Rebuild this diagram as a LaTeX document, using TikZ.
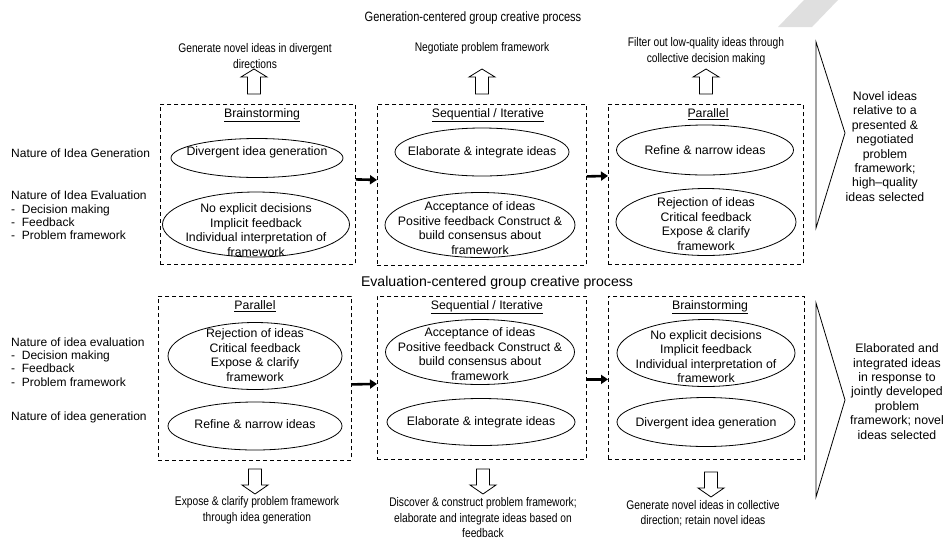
\documentclass[tikz,border=0pt]{standalone}
\usepackage{fontspec}
\setmainfont{Liberation Sans}
\newfontfamily\narrowfont[FakeStretch=0.82]{Liberation Sans}
\usetikzlibrary{arrows.meta,shapes.geometric}
\begin{document}
\begin{tikzpicture}[x=1pt,y=-1pt,
  stagebox/.style={draw,line width=0.8pt,dash pattern=on 4pt off 3pt,inner sep=0pt,anchor=north west},
  ell/.style={draw,ellipse,line width=0.8pt,inner sep=0pt},
  btxt/.style={font=\fontsize{12.3}{14.5}\selectfont,align=center,inner sep=0pt},
  head/.style={font=\fontsize{12.3}{14.5}\selectfont,inner sep=0pt},
  lbl/.style={font=\fontsize{12}{13.2}\selectfont,align=left,anchor=west,inner sep=0pt},
  ann/.style={font=\narrowfont\fontsize{12.5}{15.5}\selectfont,align=center,inner sep=0pt},
  outc/.style={font=\fontsize{12.3}{14.4}\selectfont,align=center,inner sep=0pt},
  flow/.style={line width=2.6pt,-{Triangle[length=7pt,width=9pt]}},
  uparrow/.pic={\draw[line width=0.8pt,fill=white] (-6.5,25) -- (-6.5,8) -- (-13,8) -- (0,0) -- (13,8) -- (6.5,8) -- (6.5,25) -- cycle;},
  downarrow/.pic={\draw[line width=0.8pt,fill=white] (-6.5,-25) -- (-6.5,-9) -- (-13,-9) -- (0,0) -- (13,-9) -- (6.5,-9) -- (6.5,-25) -- cycle;}
]
\useasboundingbox (0,0) rectangle (944,539);
% watermark
\fill[gray!25] (778,27) -- (812,27) -- (838,0) -- (804,0) -- cycle;

% titles
\node[font=\narrowfont\fontsize{13.5}{16}\selectfont,inner sep=0pt] (gtitle) at (473,18) {Generation-centered group creative process};
\node[font=\fontsize{14.1}{16}\selectfont,inner sep=0pt] (etitle) at (497,283) {Evaluation-centered group creative process};

% top annotations
\node[ann] (t1) at (255,56) {Generate novel ideas in divergent\\directions};
\node[ann] (t2) at (482,48) {Negotiate problem framework};
\node[ann] (t3) at (706,51.5) {Filter out low-quality ideas through\\collective decision making};
\pic at (254,69) {uparrow};
\pic at (482,69) {uparrow};
\pic at (706,69) {uparrow};

% left labels
\node[lbl] (lg1) at (11,153) {Nature of Idea Generation};
\node[lbl] (le1) at (11,215.5) {Nature of Idea Evaluation\\- \ Decision making\\- \ Feedback\\- \ Problem framework};
\node[lbl] (le2) at (11,362) {Nature of idea evaluation\\- \ Decision making\\- \ Feedback\\- \ Problem framework};
\node[lbl] (lg2) at (11,417) {Nature of idea generation};

% top boxes
\node[stagebox,minimum width=195pt,minimum height=160pt] (b1) at (160,104) {};
\node[stagebox,minimum width=209pt,minimum height=161pt] (b2) at (377,104) {};
\node[stagebox,minimum width=195pt,minimum height=160pt] (b3) at (608,104) {};

\node[head] (h1) at (262,115) {\underline{Brainstorming}};
\node[ell,minimum width=172pt,minimum height=39pt] (e11) at (257,158) {};
\node[btxt] (x11) at (257,152) {Divergent idea generation};
\node[ell,minimum width=187pt,minimum height=65pt] (e12) at (256,224.5) {};
\node[btxt] (x12) at (256,230) {No explicit decisions\\Implicit feedback\\Individual interpretation of\\framework};

\node[head] (h2) at (488,115) {\underline{Sequential / Iterative}};
\node[ell,minimum width=174pt,minimum height=48pt] (e21) at (482,152) {};
\node[btxt] (x21) at (482,152) {Elaborate \& integrate ideas};
\node[ell,minimum width=190pt,minimum height=65pt] (e22) at (480,225) {};
\node[btxt] (x22) at (480,228) {Acceptance of ideas\\Positive feedback Construct \&\\build consensus about\\framework};

\node[head] (h3) at (708,114) {\underline{Parallel}};
\node[ell,minimum width=177pt,minimum height=50pt] (e31) at (705,150) {};
\node[btxt] (x31) at (705,150) {Refine \& narrow ideas};
\node[ell,minimum width=180pt,minimum height=67pt] (e32) at (706,222) {};
\node[btxt] (x32) at (706,224) {Rejection of ideas\\Critical feedback\\Expose \& clarify\\framework};

\draw[flow] ([yshift=5pt]b1.east) -- ([yshift=5pt]b2.west);
\draw[flow] ([yshift=8.5pt]b2.east) -- ([yshift=8.5pt]b3.west);

% top outcome triangle
\draw[line width=0.8pt] (816,42) -- (845,133) -- (816,228) -- cycle;
\node[outc] (o1) at (885,146.5) {Novel ideas\\relative to a\\presented \&\\negotiated\\problem\\framework;\\high–quality\\ideas selected};

% bottom boxes
\node[stagebox,minimum width=193pt,minimum height=164pt] (c1) at (158,296) {};
\node[stagebox,minimum width=209pt,minimum height=163pt] (c2) at (377,296) {};
\node[stagebox,minimum width=196pt,minimum height=163pt] (c3) at (608,296) {};

\node[head] (k1) at (255,306) {\underline{Parallel}};
\node[ell,minimum width=174pt,minimum height=67pt] (f11) at (255,356) {};
\node[btxt] (y11) at (255,355) {Rejection of ideas\\Critical feedback\\Expose \& clarify\\framework};
\node[ell,minimum width=174pt,minimum height=48pt] (f12) at (255,426) {};
\node[btxt] (y12) at (255,424) {Refine \& narrow ideas};

\node[head] (k2) at (487,307) {\underline{Sequential / Iterative}};
\node[ell,minimum width=189pt,minimum height=65pt] (f21) at (480,352) {};
\node[btxt] (y21) at (480,354) {Acceptance of ideas\\Positive feedback Construct \&\\build consensus about\\framework};
\node[ell,minimum width=188pt,minimum height=47pt] (f22) at (481,422) {};
\node[btxt] (y22) at (481,422) {Elaborate \& integrate ideas};

\node[head] (k3) at (710,307) {\underline{Brainstorming}};
\node[ell,minimum width=178pt,minimum height=67pt] (f31) at (706,353) {};
\node[btxt] (y31) at (706,356.5) {No explicit decisions\\Implicit feedback\\Individual interpretation of\\framework};
\node[ell,minimum width=178pt,minimum height=49pt] (f32) at (706,422) {};
\node[btxt] (y32) at (706,423) {Divergent idea generation};

\draw[flow] ([yshift=-6pt]c1.east) -- ([yshift=-6pt]c2.west);
\draw[flow] ([yshift=-1.5pt]c2.east) -- ([yshift=-1.5pt]c3.west);

% bottom outcome triangle
\draw[line width=0.8pt] (816,303) -- (845,400) -- (816,497) -- cycle;
\node[outc] (o2) at (897,391.5) {Elaborated and\\integrated ideas\\in response to\\jointly developed\\problem\\framework; novel\\ideas selected};

% bottom annotations
\pic at (255,494) {downarrow};
\pic at (483,494) {downarrow};
\pic at (711,497) {downarrow};
\node[ann] (d1) at (257,510.5) {Expose \& clarify problem framework\\through idea generation};
\node[ann] (d2) at (483,518) {Discover \& construct problem framework;\\elaborate and integrate ideas based on\\feedback};
\node[ann] (d3) at (703,513.5) {Generate novel ideas in collective\\direction; retain novel ideas};
\end{tikzpicture}
\end{document}
